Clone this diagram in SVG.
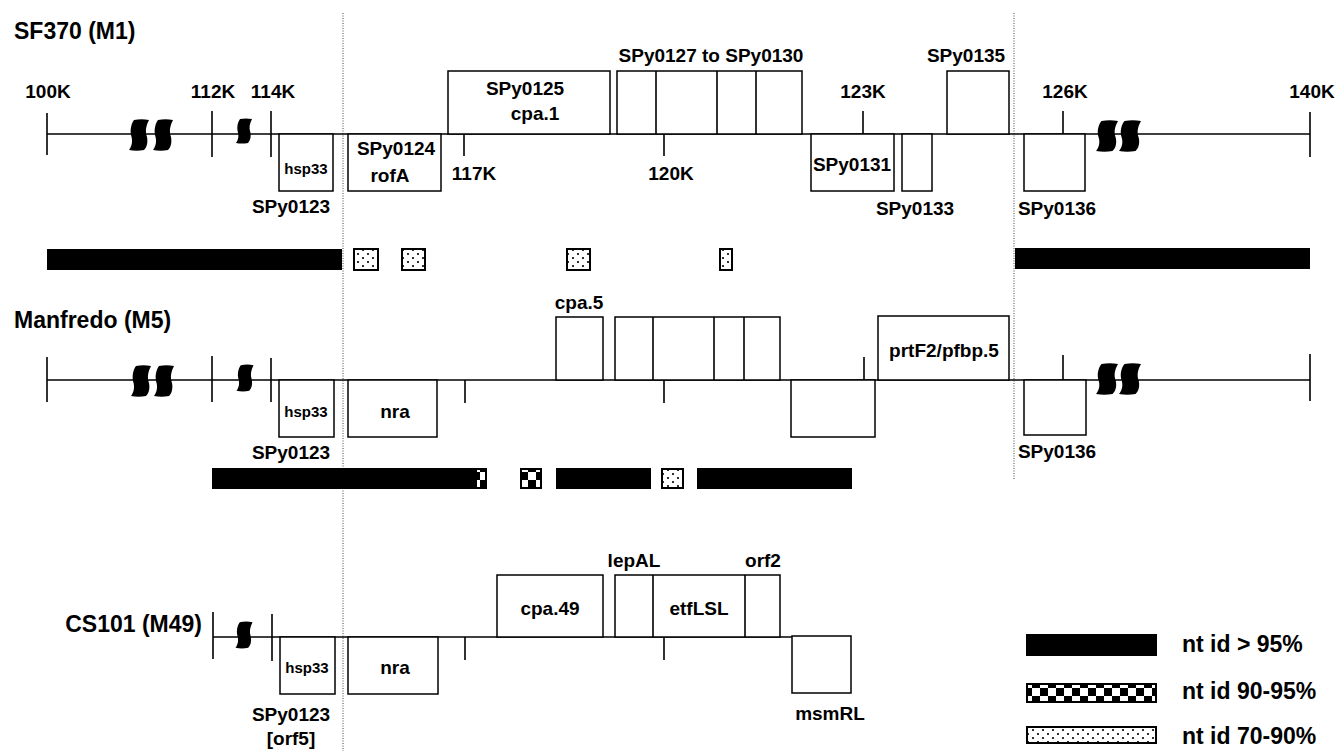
<svg xmlns="http://www.w3.org/2000/svg" width="1336" height="751" viewBox="0 0 1336 751">
<style>
text { font-family: "Liberation Sans", Arial, sans-serif; font-weight: bold; fill: #000; }
.t { font-size: 23px; }
.l { font-size: 19px; text-anchor: middle; }
.s { font-size: 15px; text-anchor: middle; }
.ax, .tk { stroke: #000; stroke-width: 1.6; fill: none; }
.bx { fill: #fff; stroke: #000; stroke-width: 1.5; }
.vd { stroke: #444; stroke-width: 1; stroke-dasharray: 1 1.5; fill: none; }
.blk { fill: #000; }
.dt { fill: url(#dots); stroke: #000; stroke-width: 2; }
.ck { fill: url(#chk); stroke: #000; stroke-width: 2; }
</style>
<defs>
<pattern id="dots" patternUnits="userSpaceOnUse" width="10" height="8">
<rect width="10" height="8" fill="#fff"/>
<circle cx="3" cy="2" r="1.1" fill="#000"/>
<circle cx="8" cy="6" r="1.1" fill="#000"/>
</pattern>
<pattern id="chk" patternUnits="userSpaceOnUse" width="16" height="16">
<rect width="16" height="16" fill="#fff"/>
<rect width="8" height="8" fill="#000"/>
<rect x="8" y="8" width="8" height="8" fill="#000"/>
</pattern>
<path id="brk" d="M -5,-15 C 0,-16 5,-16 10,-15 C 7,-9 6,-4 8,2 C 9,7 8,12 5,15 C 0,16 -5,16 -10,15 C -7,11 -6,6 -8,0 C -9,-5 -8,-11 -5,-15 Z" fill="#000"/>
</defs>
<rect width="1336" height="751" fill="#fff"/>

<g id="guides">
<line class="vd" x1="343" y1="13" x2="343" y2="751"/>
<line class="vd" x1="1014" y1="13" x2="1014" y2="480"/>
</g>

<g id="connectors">
<line class="ax" x1="47" y1="134" x2="1310" y2="134"/>
<line class="ax" x1="47" y1="380" x2="1310" y2="380"/>
<line class="ax" x1="213" y1="637" x2="792" y2="637"/>
<path class="tk" d="M47,113V155 M212,111V157 M271,111V157 M464,134V156 M664,134V156 M863,111V134 M1063,111V134 M1310,112V157"/>
<path class="tk" d="M47,357V402 M212,356V402 M271,358V402 M465,380V403 M664,380V403 M864,357V380 M1063,355V380 M1310,354V401"/>
<path class="tk" d="M213,612V659 M272,614V661 M465,637V660 M664,637V660"/>
</g>

<g id="sf370">
<text class="t" x="14" y="39">SF370 (M1)</text>
<text class="l" x="48" y="98">100K</text>
<text class="l" x="213" y="98">112K</text>
<text class="l" x="273" y="98">114K</text>
<text class="l" x="863" y="98">123K</text>
<text class="l" x="1065" y="98">126K</text>
<text class="l" x="1312" y="98">140K</text>
<text class="l" x="474" y="180">117K</text>
<text class="l" x="671" y="180">120K</text>
<use href="#brk" transform="translate(139,135)"/>
<use href="#brk" transform="translate(163,135)"/>
<use href="#brk" transform="translate(244,131) scale(0.8)"/>
<use href="#brk" transform="translate(1107,136) scale(1.1,1)"/>
<use href="#brk" transform="translate(1130,136) scale(1.1,1)"/>
</g>
<g id="sf370-hsp33">
<rect class="bx" x="279" y="134" width="54" height="57"/>
<text class="s" x="306" y="174">hsp33</text>
<text class="l" x="291" y="213">SPy0123</text>
</g>
<g id="sf370-rofA">
<rect class="bx" x="348" y="134" width="93" height="57"/>
<text class="l" x="396" y="155">SPy0124</text>
<text class="l" x="390" y="182">rofA</text>
</g>
<g id="sf370-cpa1">
<rect class="bx" x="448" y="71" width="162" height="63"/>
<text class="l" x="525" y="95">SPy0125</text>
<text class="l" x="535" y="120">cpa.1</text>
</g>
<g id="sf370-0127">
<rect class="bx" x="617" y="71" width="185" height="63"/>
<path class="tk" d="M656,71V134 M717,71V134 M756,71V134"/>
<text class="l" x="711" y="62">SPy0127 to SPy0130</text>
</g>
<g id="sf370-0131">
<rect class="bx" x="811" y="134" width="83" height="57"/>
<text class="l" x="852" y="171">SPy0131</text>
</g>
<g id="sf370-0133">
<rect class="bx" x="902" y="134" width="30" height="57"/>
<text class="l" x="915" y="215">SPy0133</text>
</g>
<g id="sf370-0135">
<rect class="bx" x="947" y="71" width="62" height="63"/>
<text class="l" x="966" y="62">SPy0135</text>
</g>
<g id="sf370-0136">
<rect class="bx" x="1024" y="134" width="61" height="57"/>
<text class="l" x="1057" y="215">SPy0136</text>
</g>

<g id="bars1">
<rect class="blk" x="47" y="249" width="295" height="21"/>
<rect class="dt" x="354" y="249" width="24" height="21"/>
<rect class="dt" x="402" y="249" width="23" height="21"/>
<rect class="dt" x="567" y="249" width="23" height="21"/>
<rect class="dt" x="720" y="249" width="12" height="21"/>
<rect class="blk" x="1015" y="248" width="295" height="21"/>
</g>

<g id="manfredo">
<text class="t" x="14" y="328">Manfredo (M5)</text>
<use href="#brk" transform="translate(141,381)"/>
<use href="#brk" transform="translate(164,381)"/>
<use href="#brk" transform="translate(245,378) scale(0.85)"/>
<use href="#brk" transform="translate(1107,379) scale(1.1,1)"/>
<use href="#brk" transform="translate(1130,379) scale(1.1,1)"/>
</g>
<g id="m5-hsp33">
<rect class="bx" x="279" y="380" width="55" height="57"/>
<text class="s" x="306" y="417">hsp33</text>
<text class="l" x="291" y="459">SPy0123</text>
</g>
<g id="m5-nra">
<rect class="bx" x="348" y="380" width="89" height="57"/>
<text class="l" x="395" y="418">nra</text>
</g>
<g id="m5-cpa5">
<rect class="bx" x="556" y="317" width="47" height="63"/>
<text class="l" x="579" y="309">cpa.5</text>
</g>
<g id="m5-group">
<rect class="bx" x="615" y="317" width="165" height="63"/>
<path class="tk" d="M653,317V380 M714,317V380 M744,317V380"/>
</g>
<g id="m5-below">
<rect class="bx" x="791" y="380" width="84" height="57"/>
</g>
<g id="m5-prtF2">
<rect class="bx" x="878" y="316" width="131" height="64"/>
<text class="l" x="944" y="357">prtF2/pfbp.5</text>
</g>
<g id="m5-0136">
<rect class="bx" x="1024" y="380" width="62" height="55"/>
<text class="l" x="1057" y="458">SPy0136</text>
</g>

<g id="bars2">
<rect class="blk" x="212" y="468" width="264" height="21"/>
<rect class="ck" x="476" y="469" width="10" height="19"/>
<rect class="ck" x="521" y="469" width="20" height="19"/>
<rect class="blk" x="556" y="468" width="95" height="21"/>
<rect class="dt" x="662" y="469" width="21" height="19"/>
<rect class="blk" x="697" y="468" width="155" height="21"/>
</g>

<g id="cs101">
<text class="t" x="202" y="632" text-anchor="end">CS101 (M49)</text>
<use href="#brk" transform="translate(244,635) scale(0.85)"/>
</g>
<g id="m49-hsp33">
<rect class="bx" x="280" y="637" width="55" height="57"/>
<text class="s" x="307" y="673">hsp33</text>
<text class="l" x="291" y="721">SPy0123</text>
<text class="l" x="291" y="745">[orf5]</text>
</g>
<g id="m49-nra">
<rect class="bx" x="348" y="637" width="90" height="57"/>
<text class="l" x="395" y="674">nra</text>
</g>
<g id="m49-cpa49">
<rect class="bx" x="497" y="575" width="106" height="62"/>
<text class="l" x="550" y="615">cpa.49</text>
</g>
<g id="m49-group">
<rect class="bx" x="615" y="575" width="165" height="62"/>
<path class="tk" d="M653,575V637 M745,575V637"/>
<text class="l" x="634" y="567">lepAL</text>
<text class="l" x="763" y="567">orf2</text>
<text class="l" x="699" y="615">etfLSL</text>
</g>
<g id="m49-msmRL">
<rect class="bx" x="792" y="636" width="59" height="57"/>
<text class="l" x="830" y="720">msmRL</text>
</g>

<g id="legend">
<rect class="blk" x="1026" y="634" width="131" height="22"/>
<text class="t" x="1182" y="652">nt id &gt; 95%</text>
<rect class="ck" x="1027" y="684" width="129" height="18"/>
<text class="t" x="1182" y="699">nt id 90-95%</text>
<rect class="dt" x="1027" y="727" width="129" height="16"/>
<text class="t" x="1182" y="744">nt id 70-90%</text>
</g>
</svg>
